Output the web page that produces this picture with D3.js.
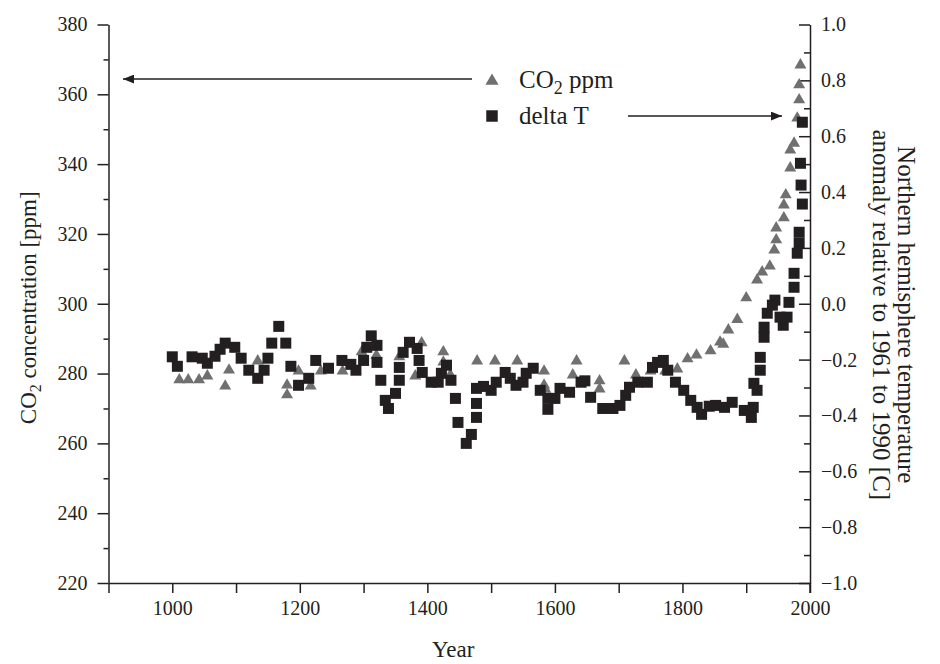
<!DOCTYPE html>
<html>
<head>
<meta charset="utf-8">
<script src="https://cdn.jsdelivr.net/npm/d3@7"></script>
<style>
  body { margin: 0; background: #fff; }
  svg { font-family: "Liberation Serif", "Times New Roman", serif; }
  .axis path, .axis line { stroke: #231f20; stroke-width: 1.5; }
  .axis text { font-size: 20px; fill: #231f20; font-family: "Liberation Serif", serif; }
  .label { font-size: 23px; fill: #231f20; }
  .legend-text { font-size: 25px; fill: #231f20; }
</style>
</head>
<body>
<svg width="940" height="664"></svg>
<script>
"use strict";

// CO2 concentration [ppm] : [year, ppm]
const co2 = [
  [1011, 278.2], [1025, 278.2], [1042, 278.2], [1055, 279.3], [1083, 276.4],
  [1089, 281], [1134, 283.6], [1180, 276.7], [1180, 273.9], [1198, 280.7],
  [1217, 276.4], [1233, 280.7], [1267, 280.7], [1297, 286.2], [1320, 285.2],
  [1356, 284.8], [1381, 279.3], [1391, 288.8], [1425, 286.2], [1425, 283.3],
  [1436, 279.6], [1478, 283.6], [1506, 283.6], [1541, 283.6], [1583, 280.7],
  [1583, 276.7], [1585, 275.5], [1628, 279.6], [1634, 283.6], [1670, 277.9],
  [1670, 275.6], [1709, 283.6], [1727, 279.6], [1750, 280.7], [1773, 280.7],
  [1792, 281.3], [1808, 284.2], [1822, 285.3], [1844, 286.5], [1859, 289],
  [1864, 288.4], [1872, 292.5], [1886, 295.5], [1900, 301.7], [1917, 306.8],
  [1925, 309.1], [1937, 310.8], [1944, 315.4], [1947, 318.3], [1947, 321.7],
  [1959, 324.6], [1959, 328.3], [1962, 331.2], [1969, 338.9], [1969, 344],
  [1975, 346], [1980, 353.2], [1983, 358.4], [1983, 362.7], [1985, 368.4]
];

// Northern hemisphere temperature anomaly [C] : [year, deltaT]
const deltaT = [
  [1000, -0.19], [1008, -0.224], [1031, -0.19], [1047, -0.195], [1055, -0.213],
  [1067, -0.188], [1075, -0.163], [1083, -0.141], [1098, -0.156], [1108, -0.195],
  [1120, -0.238], [1134, -0.267], [1144, -0.238], [1150, -0.195], [1156, -0.141],
  [1167, -0.081], [1178, -0.141], [1186, -0.224], [1198, -0.292], [1214, -0.267],
  [1225, -0.203], [1245, -0.231], [1266, -0.203], [1280, -0.217], [1288, -0.238],
  [1300, -0.203], [1305, -0.156], [1312, -0.115], [1321, -0.149], [1321, -0.21],
  [1327, -0.274], [1334, -0.346], [1339, -0.375], [1350, -0.321], [1356, -0.274],
  [1356, -0.228], [1362, -0.174], [1372, -0.138], [1384, -0.16], [1387, -0.203],
  [1392, -0.246], [1406, -0.281], [1417, -0.281], [1422, -0.249], [1430, -0.22],
  [1437, -0.274], [1444, -0.339], [1448, -0.425], [1461, -0.5], [1469, -0.468],
  [1477, -0.407], [1477, -0.357], [1477, -0.303], [1488, -0.296], [1500, -0.31],
  [1508, -0.281], [1522, -0.246], [1530, -0.267], [1539, -0.292], [1550, -0.281],
  [1555, -0.249], [1566, -0.231], [1577, -0.31], [1589, -0.378], [1589, -0.339],
  [1600, -0.339], [1608, -0.303], [1623, -0.317], [1641, -0.281], [1647, -0.276],
  [1656, -0.335], [1675, -0.375], [1691, -0.375], [1702, -0.364], [1711, -0.328],
  [1717, -0.299], [1730, -0.281], [1745, -0.281], [1753, -0.228], [1761, -0.21],
  [1770, -0.203], [1777, -0.238], [1789, -0.281], [1802, -0.31], [1813, -0.346],
  [1823, -0.371], [1830, -0.396], [1842, -0.367], [1852, -0.364], [1866, -0.371],
  [1878, -0.353], [1897, -0.382], [1908, -0.407], [1911, -0.371], [1912, -0.285],
  [1917, -0.31], [1922, -0.238], [1922, -0.192], [1928, -0.12], [1928, -0.084],
  [1933, -0.034], [1941, -0.005], [1945, 0.013], [1953, -0.048], [1958, -0.077],
  [1964, -0.048], [1967, 0.005], [1975, 0.059], [1975, 0.109], [1980, 0.181],
  [1983, 0.217], [1983, 0.256], [1985, 0.503], [1986, 0.425], [1988, 0.357],
  [1988, 0.65]
];

// ticks
const yearTicks = [1000, 1200, 1400, 1600, 1800, 2000];
const yearMinorTicks = [900, 1100, 1300, 1500, 1700, 1900];
const ppmTicks = [220, 240, 260, 280, 300, 320, 340, 360, 380];
const ppmMinorTicks = [230, 250, 270, 290, 310, 330, 350, 370];
const tempTicks = [-1.0, -0.8, -0.6, -0.4, -0.2, 0.0, 0.2, 0.4, 0.6, 0.8, 1.0];
const tempMinorTicks = [-0.9, -0.7, -0.5, -0.3, -0.1, 0.1, 0.3, 0.5, 0.7, 0.9];

const svg = d3.select("svg");
const ink = "#231f20";
const grey = "#707070";

const margin = { top: 24.5, right: 130, bottom: 81, left: 108.5 };
const width = +svg.attr("width");
const height = +svg.attr("height");
const innerWidth = width - margin.left - margin.right;
const innerHeight = height - margin.top - margin.bottom;

const xScale = d3.scaleLinear().domain([900, 2000]).range([0, innerWidth]);
const yLeft = d3.scaleLinear().domain([220, 380]).range([innerHeight, 0]);
const yRight = d3.scaleLinear().domain([-1, 1]).range([innerHeight, 0]);

const g = svg.append("g")
  .attr("transform", `translate(${margin.left},${margin.top})`);

// minor ticks carry no labels
const minor = (sel) => {
  sel.select(".domain").remove();
  sel.selectAll("text").remove();
};

// bottom axis
g.append("g").attr("class", "axis")
  .attr("transform", `translate(0,${innerHeight})`)
  .call(d3.axisBottom(xScale).tickValues(yearMinorTicks).tickSize(10).tickFormat(""))
  .call(minor);
g.append("g").attr("class", "axis")
  .attr("transform", `translate(0,${innerHeight})`)
  .call(d3.axisBottom(xScale).tickValues(yearTicks).tickSize(10).tickSizeOuter(0)
    .tickPadding(8).tickFormat(d3.format("d")));

// left axis
g.append("g").attr("class", "axis")
  .call(d3.axisLeft(yLeft).tickValues(ppmMinorTicks).tickSize(5).tickFormat(""))
  .call(minor);
g.append("g").attr("class", "axis")
  .call(d3.axisLeft(yLeft).tickValues(ppmTicks).tickSize(11).tickSizeOuter(0)
    .tickPadding(10).tickFormat(d3.format("d")));

// right axis (ticks pointing inwards)
const rightG = g.append("g").attr("class", "axis")
  .attr("transform", `translate(${innerWidth},0)`);
rightG.call(d3.axisRight(yRight).tickValues(tempTicks).tickSize(-11).tickSizeOuter(0)
  .tickFormat(d3.format(".1f")));
rightG.selectAll(".tick text").attr("x", 11);
rightG.append("g")
  .call(d3.axisRight(yRight).tickValues(tempMinorTicks).tickSize(-6).tickFormat(""))
  .call(minor);
// right axis reaches down past the x axis
rightG.append("line")
  .attr("x1", 0).attr("x2", 0)
  .attr("y1", innerHeight).attr("y2", innerHeight + 10)
  .attr("stroke", ink).attr("stroke-width", 1.5);

// data
const triangle = d3.symbol(d3.symbolTriangle, 62);
const square = d3.symbol(d3.symbolSquare, 121);

g.selectAll(".co2")
  .data(co2)
  .enter()
  .append("path")
  .attr("class", "co2")
  .attr("d", triangle)
  .attr("transform", d => `translate(${xScale(d[0])},${yLeft(d[1])})`)
  .attr("fill", grey);

g.selectAll(".temp")
  .data(deltaT)
  .enter()
  .append("path")
  .attr("class", "temp")
  .attr("d", square)
  .attr("transform", d => `translate(${xScale(d[0])},${yRight(d[1])})`)
  .attr("fill", ink);

// axis labels
g.append("text")
  .attr("class", "label")
  .attr("x", innerWidth / 2 - 6)
  .attr("y", innerHeight + 74)
  .attr("text-anchor", "middle")
  .text("Year");

const leftLabel = g.append("text")
  .attr("class", "label")
  .attr("transform", `translate(-73,${innerHeight / 2 + 4}) rotate(-90)`)
  .attr("text-anchor", "middle");
leftLabel.append("tspan").text("CO");
leftLabel.append("tspan").attr("dy", 5).attr("font-size", 16).text("2");
leftLabel.append("tspan").attr("dy", -5).text(" concentration [ppm]");

const rightLabel = g.append("text")
  .attr("class", "label")
  .style("font-size", "25px")
  .attr("transform", `translate(${innerWidth + 88},${innerHeight / 2 + 11}) rotate(90)`)
  .attr("text-anchor", "middle");
rightLabel.append("tspan").attr("x", 0).attr("y", 0).text("Northern hemisphere temperature");
rightLabel.append("tspan").attr("x", 0).attr("y", 25).text("anomaly relative to 1961 to 1990 [C]");

// legend
const legend = svg.append("g");
legend.append("path")
  .attr("d", d3.symbol(d3.symbolTriangle, 75))
  .attr("transform", "translate(492,81)")
  .attr("fill", grey);
legend.append("path")
  .attr("d", d3.symbol(d3.symbolSquare, 132))
  .attr("transform", "translate(492,116)")
  .attr("fill", ink);
const co2Text = legend.append("text")
  .attr("class", "legend-text")
  .attr("x", 519).attr("y", 88);
co2Text.append("tspan").text("CO");
co2Text.append("tspan").attr("dy", 6).attr("font-size", 18).text("2");
co2Text.append("tspan").attr("dy", -6).text(" ppm");
legend.append("text")
  .attr("class", "legend-text")
  .attr("x", 519).attr("y", 124)
  .text("delta T");

// arrows
svg.append("defs").append("marker")
  .attr("id", "head")
  .attr("viewBox", "0 0 10 8")
  .attr("refX", 10).attr("refY", 4)
  .attr("markerWidth", 11).attr("markerHeight", 9)
  .attr("markerUnits", "userSpaceOnUse")
  .attr("orient", "auto")
  .append("path")
  .attr("d", "M0,0L10,4L0,8Z")
  .attr("fill", ink);

svg.append("line")
  .attr("x1", 472).attr("y1", 79).attr("x2", 123).attr("y2", 79)
  .attr("stroke", ink).attr("stroke-width", 1.5)
  .attr("marker-end", "url(#head)");
svg.append("line")
  .attr("x1", 628).attr("y1", 116).attr("x2", 782).attr("y2", 116)
  .attr("stroke", ink).attr("stroke-width", 1.5)
  .attr("marker-end", "url(#head)");
</script>
</body>
</html>
